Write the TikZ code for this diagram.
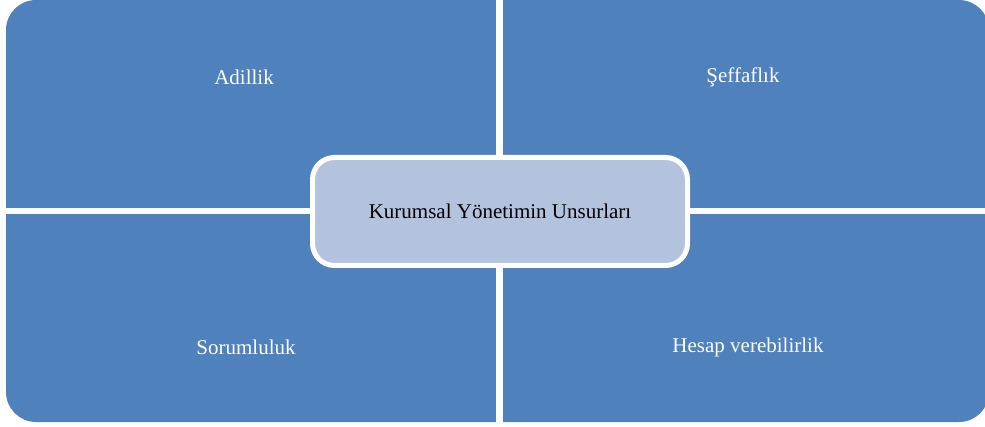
\documentclass[tikz,border=0pt]{standalone}
\usepackage{fontspec}
\setmainfont{Liberation Serif}
\definecolor{quadblue}{HTML}{4F81BD}
\definecolor{centerfill}{HTML}{B3C2DD}
\begin{document}
\begin{tikzpicture}[x=1pt,y=-1pt,
  quadtext/.style={text=white,font=\fontsize{21}{25}\selectfont},
  centerbox/.style={draw=white,line width=5pt,fill=centerfill,rounded corners=22pt,
    minimum width=375pt,minimum height=108pt,inner sep=0pt,
    font=\fontsize{21}{25}\selectfont,text=black}]
\useasboundingbox (0,0) rectangle (985,427);
\begin{scope}
\clip (0,0) rectangle (985,427);
\fill[quadblue,rounded corners=30pt] (6,0) rectangle (989,422);
\fill[white] (496,-2) rectangle (502.5,430);
\fill[white] (0,208) rectangle (990,214);
\end{scope}
\node[quadtext] (adil) at (244,77) {Adillik};
\node[quadtext] (seff) at (743,77) {Şeffaflık};
\node[quadtext] (sor) at (246,347) {Sorumluluk};
\node[quadtext] (hes) at (748,347) {Hesap verebilirlik};
\node[centerbox] (ky) at (500,211.5) {Kurumsal Yönetimin Unsurları};
\end{tikzpicture}
\end{document}
